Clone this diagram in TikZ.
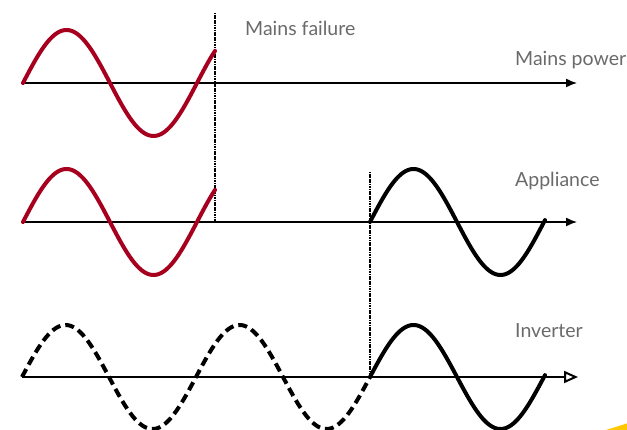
\documentclass[tikz,border=0pt]{standalone}
\usepackage{fontspec}
\setmainfont{Lato}
\usetikzlibrary{arrows.meta}
\definecolor{wavered}{HTML}{A6001E}
\definecolor{labelgray}{HTML}{6A6A6A}
\definecolor{accentyellow}{HTML}{FFC800}
\begin{document}
\begin{tikzpicture}[x=1pt,y=1pt,
  axis/.style={line width=1.4pt,-{Latex[length=11pt,width=9pt]}},
  axisopen/.style={line width=2pt,-{Triangle[open,length=14pt,width=12pt,line width=2pt]}},
  wave/.style={line width=4pt,line cap=round},
  dashwave/.style={line width=4pt,dash pattern=on 9pt off 5pt},
  marker/.style={line width=1.6pt,dash pattern=on 1.2pt off 0.5pt},
  lbl/.style={text=labelgray,font=\fontsize{19.5}{22}\selectfont,anchor=west,inner sep=0pt}
]
\useasboundingbox (0,0) rectangle (627,430);
\clip (0,0) rectangle (627,430);
% yellow corner
\fill[accentyellow] (606,0) .. controls (613,2) and (620,4.5) .. (627,6.5) -- (627,0) -- cycle;
% axes
\coordinate (a1s) at (22,347); \coordinate (a1e) at (577,347);
\coordinate (a2s) at (22,208); \coordinate (a2e) at (577,208);
\coordinate (a3s) at (22,53);  \coordinate (a3e) at (578,53);
\draw[axis] (a1s) -- (a1e);
\draw[axis] (a2s) -- (a2e);
\draw[axisopen] (a3s) -- (a3e);
% marker lines
\coordinate (m1t) at (215,417); \coordinate (m1b) at (215,208);
\coordinate (m2t) at (370,258); \coordinate (m2b) at (370,53);
\draw[marker] (m1t) -- (m1b);
\draw[marker] (m2t) -- (m2b);
% waves
\draw[wave,wavered] plot[domain=23:215,samples=120,smooth] (\x,{347+53*sin((\x-23)/174*360)});
\draw[wave,wavered] plot[domain=23:215,samples=120,smooth] (\x,{208+53*sin((\x-23)/174*360)});
\draw[wave,black] plot[domain=370:545,samples=120,smooth] (\x,{208+53*sin((\x-370)/174*360)});
\draw[dashwave,black] plot[domain=22:370,samples=200,smooth] (\x,{53+52*sin((\x-22)/174*360)});
\draw[wave,black] plot[domain=370:545,samples=120,smooth] (\x,{53+52*sin((\x-370)/174*360)});
% labels
\node[lbl] (lfail) at (245,402) {Mains failure};
\node[lbl] (lmains) at (515,370) {Mains power};
\node[lbl] (lapp) at (515,249) {Appliance};
\node[lbl] (linv) at (515,99) {Inverter};
\end{tikzpicture}
\end{document}
